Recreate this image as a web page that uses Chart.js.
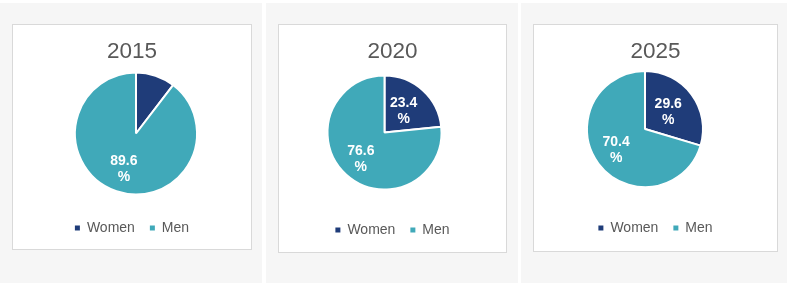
<!DOCTYPE html>
<html>
<head>
<meta charset="utf-8">
<script src="https://cdn.jsdelivr.net/npm/chart.js@4.4.1/dist/chart.umd.min.js"></script>
<style>
  html, body { margin: 0; padding: 0; background: #ffffff; }
  body { width: 787px; height: 283px; position: relative; overflow: hidden; font-family: "Liberation Sans", Arial, sans-serif; }
  .col { position: absolute; top: 3px; bottom: 0; background: #f6f6f6; }
  .box { position: absolute; box-sizing: border-box; border: 1px solid #d9d9d9; background: #ffffff; }
  .box canvas { display: block; }
</style>
</head>
<body>
<div class="col" style="left:0;width:262px"></div>
<div class="col" style="left:266px;width:252px"></div>
<div class="col" style="left:521px;width:266px"></div>

<div class="box" style="left:12px;top:24px;width:240px;height:226px"><canvas id="c0" width="238" height="224"></canvas></div>
<div class="box" style="left:278px;top:24px;width:229px;height:229px"><canvas id="c1" width="227" height="227"></canvas></div>
<div class="box" style="left:533px;top:24px;width:245px;height:228px"><canvas id="c2" width="243" height="226"></canvas></div>

<script>
// ---- data ----
const years = ['2015', '2020', '2025'];
const categories = ['Women', 'Men'];
const women = [10.4, 23.4, 29.6];
const men = [89.6, 76.6, 70.4];

// ---- style ----
const WOMEN_COLOR = '#1f3c79';
const MEN_COLOR = '#40a9b9';
const TEXT_COLOR = '#595959';

// per-panel layout tuning (not data)
const layouts = [
  { radius: 61, dx: 4,     titleBottom: 8.9, legendBottom: 4 },
  { radius: 57, dx: -8,    titleBottom: 4.9, legendBottom: 5 },
  { radius: 58, dx: -10.5, titleBottom: 0,   legendBottom: 6 }
];

// plugin: shift pie horizontally and draw in-slice percentage labels
const pieLabels = {
  id: 'pieLabels',
  beforeDatasetsDraw(chart, args, opts) {
    chart.ctx.save();
    chart.ctx.translate(opts.dx || 0, 0);
  },
  afterDatasetsDraw(chart, args, opts) {
    const ctx = chart.ctx;
    const meta = chart.getDatasetMeta(0);
    const data = chart.data.datasets[0].data;
    const total = data.reduce((a, b) => a + b, 0);
    meta.data.forEach((arc, i) => {
      const frac = data[i] / total;
      if (frac < 0.15) return;
      const p = arc.getProps(['x', 'y', 'startAngle', 'endAngle', 'outerRadius'], true);
      const mid = (p.startAngle + p.endAngle) / 2;
      const r = p.outerRadius * (frac < 0.5 ? 0.5 : 0.62);
      const cx = p.x + Math.cos(mid) * r;
      const cy = p.y + Math.sin(mid) * r;
      ctx.fillStyle = '#ffffff';
      ctx.font = 'bold 14px "Liberation Sans", Arial, sans-serif';
      ctx.textAlign = 'center';
      ctx.textBaseline = 'middle';
      ctx.fillText(data[i].toFixed(1), cx, cy - 8);
      ctx.fillText('%', cx, cy + 8);
    });
    ctx.restore();
  }
};

function legendLabels(chart) {
  const base = (Chart.overrides && Chart.overrides.pie && Chart.overrides.pie.plugins.legend.labels.generateLabels)
    ? Chart.overrides.pie.plugins.legend.labels.generateLabels(chart) : [];
  return base.map(it => Object.assign({}, it, { lineWidth: 0, strokeStyle: 'rgba(0,0,0,0)', fontColor: TEXT_COLOR }));
}

const seriesByYear = years.map((y, i) => [women[i], men[i]]);

years.forEach((year, i) => {
  const L = layouts[i];
  new Chart(document.getElementById('c' + i), {
    type: 'pie',
    data: {
      labels: categories,
      datasets: [{
        data: seriesByYear[i],
        backgroundColor: [WOMEN_COLOR, MEN_COLOR],
        borderColor: '#ffffff',
        borderWidth: 2
      }]
    },
    options: {
      responsive: false,
      animation: false,
      devicePixelRatio: 1,
      radius: L.radius,
      layout: { padding: { top: 0, left: 0, right: 0, bottom: L.legendBottom } },
      plugins: {
        tooltip: { enabled: false },
        title: {
          display: true,
          text: year,
          color: TEXT_COLOR,
          font: { family: '"Liberation Sans", Arial, sans-serif', size: 22.5, weight: 'normal', lineHeight: 0.01 },
          padding: { top: 27 - 0.11, bottom: L.titleBottom }
        },
        legend: {
          display: true,
          position: 'bottom',
          labels: {
            usePointStyle: true,
            pointStyle: 'rect',
            boxWidth: 5,
            boxHeight: 5,
            padding: 15,
            color: TEXT_COLOR,
            font: { family: '"Liberation Sans", Arial, sans-serif', size: 14 },
            generateLabels: legendLabels
          }
        },
        pieLabels: { dx: L.dx }
      }
    },
    plugins: [pieLabels]
  });
});
</script>
</body>
</html>
